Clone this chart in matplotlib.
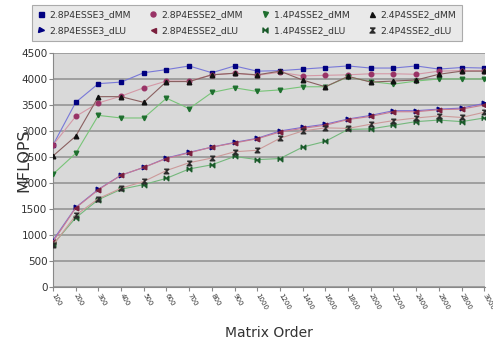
import matplotlib
matplotlib.use("Agg")
import matplotlib.pyplot as plt
from matplotlib.lines import Line2D
import numpy as np

orders = ['100', '200', '300', '400', '500', '600', '700', '800', '900', '1000',
          '1200', '1400', '1600', '1800', '2000', '2200', '2400', '2600', '2800', '3000']

s_28sse3_dmm = [2730, 3550, 3910, 3940, 4120, 4180, 4250, 4120, 4250, 4150,
                4160, 4190, 4220, 4250, 4210, 4210, 4250, 4190, 4220, 4210]
s_28sse2_dmm = [2730, 3280, 3540, 3670, 3830, 3960, 3960, 4080, 4110, 4070,
                4130, 4060, 4070, 4080, 4100, 4100, 4090, 4150, 4160, 4160]
s_14sse2_dmm = [2170, 2570, 3300, 3250, 3250, 3630, 3430, 3740, 3830, 3760,
                3790, 3850, 3850, 4040, 3950, 3900, 3960, 4000, 4000, 4000]
s_24sse2_dmm = [2520, 2900, 3660, 3660, 3550, 3950, 3950, 4080, 4110, 4080,
                4150, 3980, 3850, 4050, 3940, 3960, 3980, 4090, 4150, 4150]
s_28sse3_dlu = [900, 1530, 1880, 2150, 2300, 2480, 2590, 2690, 2780, 2860,
                3000, 3070, 3130, 3230, 3300, 3390, 3390, 3420, 3440, 3530]
s_28sse2_dlu = [870, 1520, 1870, 2150, 2300, 2470, 2580, 2690, 2770, 2850,
                2980, 3050, 3110, 3220, 3280, 3370, 3370, 3410, 3420, 3500]
s_14sse2_dlu = [820, 1330, 1680, 1880, 1970, 2090, 2270, 2350, 2510, 2450,
                2470, 2690, 2800, 3030, 3040, 3110, 3180, 3210, 3180, 3250]
s_24sse2_dlu = [800, 1380, 1700, 1900, 2030, 2240, 2390, 2480, 2600, 2630,
                2860, 3000, 3060, 3050, 3130, 3200, 3250, 3290, 3260, 3360]

names = ['2.8P4ESSE3_dMM', '2.8P4ESSE2_dMM', '1.4P4SSE2_dMM', '2.4P4SSE2_dMM',
         '2.8P4ESSE3_dLU', '2.8P4ESSE2_dLU', '1.4P4SSE2_dLU', '2.4P4SSE2_dLU']
series = [s_28sse3_dmm, s_28sse2_dmm, s_14sse2_dmm, s_24sse2_dmm,
          s_28sse3_dlu, s_28sse2_dlu, s_14sse2_dlu, s_24sse2_dlu]

hourglass = [(-1, 1), (1, 1), (0, 0), (1, -1), (-1, -1), (0, 0)]
bowtie = [(-1, -1), (-1, 1), (0, 0), (1, 1), (1, -1), (0, 0)]

line_colors = ['#7878d8', '#d498a6', '#78c478', '#8a6060',
               '#7d6cd0', '#c87c92', '#74b87c', '#cc9a9a']
marker_colors = ['#000080', '#993366', '#1f6f2f', '#111111',
                 '#000080', '#7a1f3d', '#1a5a2a', '#2b2b2b']
markers = ['s', 'o', 'v', '^', '>', '<', bowtie, hourglass]

fig = plt.figure(figsize=(4.93, 3.45), dpi=100)
ax = fig.add_axes([0.1075, 0.168, 0.877, 0.6785])
ax.set_facecolor('#d9d9d9')

x = np.arange(len(orders))
for vals, c, mc, m in zip(series, line_colors, marker_colors, markers):
    ax.plot(x, vals, color=c, lw=0.8, marker=m, markersize=3.3,
            markerfacecolor=mc, markeredgecolor=mc, zorder=3)

ax.set_xlim(0, len(orders) - 1 + 0.05)
ax.set_ylim(0, 4500)
ax.set_yticks(np.arange(0, 4501, 500))
ax.yaxis.grid(True, color='#9a9a9a', lw=1.3)
ax.set_axisbelow(True)
ax.set_xticks(x)
ax.set_xticklabels(orders, rotation=-60, ha='left', va='center',
                   rotation_mode='anchor', fontsize=5, color='#333333')
ax.tick_params(axis='x', length=3, color='#888888', pad=2)
ax.tick_params(axis='y', length=3, color='#888888', labelsize=7.5,
               labelcolor='#333333', pad=1)
for s in ['top', 'right']:
    ax.spines[s].set_visible(False)
for s in ['left', 'bottom']:
    ax.spines[s].set_color('#888888')

ax.set_xlabel('Matrix Order', fontsize=10, color='#333333')
ax.xaxis.set_label_coords(0.5, -0.165)
ax.set_ylabel('MFLOPS', fontsize=11.5, color='#333333')
ax.yaxis.set_label_coords(-0.05, 0.54)

handles = [Line2D([], [], linestyle='none', marker=m, markersize=3.6,
                  markerfacecolor=mc, markeredgecolor=mc)
           for m, mc in zip(markers, marker_colors)]
order = [0, 4, 1, 5, 2, 6, 3, 7]
leg = fig.legend([handles[i] for i in order], [names[i] for i in order],
                 ncol=4, loc='upper left',
                 bbox_to_anchor=(0.055, 1.0), fontsize=6.7,
                 frameon=True, fancybox=False, handlelength=0.8,
                 handletextpad=0.5, columnspacing=2.0, borderpad=0.6,
                 labelspacing=0.75)
leg.get_frame().set_facecolor('#e4e4e4')
leg.get_frame().set_edgecolor('#999999')
leg.get_frame().set_linewidth(0.8)
for t in leg.get_texts():
    t.set_color('#333333')

fig.savefig('out.png', dpi=100)
